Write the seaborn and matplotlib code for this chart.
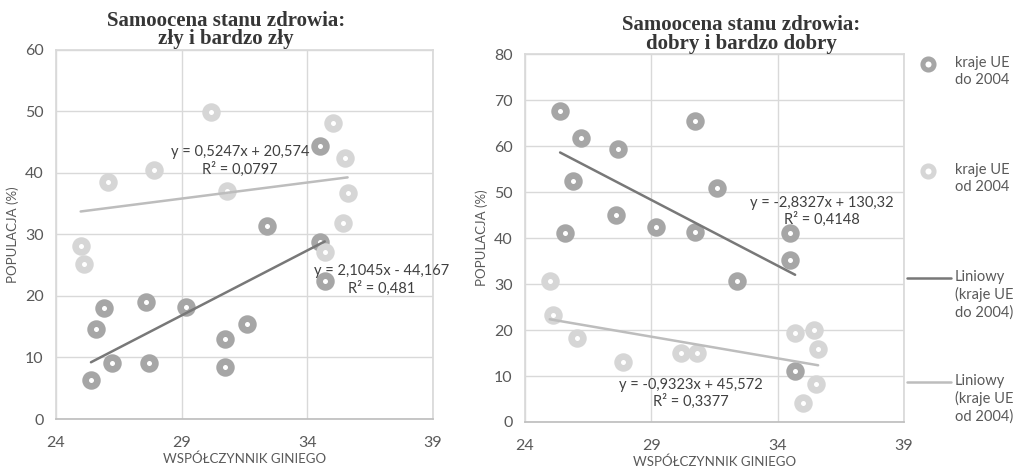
import numpy as np
import pandas as pd
import matplotlib
matplotlib.use('Agg')
import matplotlib.pyplot as plt
from matplotlib.lines import Line2D
import seaborn as sns

# wspolczynnik Giniego + populacja (%)
gini_old = [25.39, 25.58, 25.90, 26.22, 27.59, 27.69, 29.18, 30.71, 30.71, 31.60, 32.40, 34.49, 34.50, 34.69]
zly_old = [6.4, 14.6, 18.1, 9.05, 19.0, 9.16, 18.2, 13.06, 8.5, 15.45, 31.3, 44.4, 28.7, 22.5]
dobry_old = [67.7, 41.0, 52.5, 61.7, 45.1, 59.3, 42.5, 65.5, 41.4, 50.9, 30.7, 41.0, 35.3, 11.0]

gini_new = [24.98, 25.10, 26.05, 27.89, 30.17, 30.80, 34.70, 35.00, 35.42, 35.51, 35.60]
zly_new = [28.1, 25.2, 38.6, 40.5, 49.97, 37.07, 27.1, 48.2, 31.9, 42.5, 36.7]
dobry_new = [30.6, 23.3, 18.3, 13.1, 15.1, 15.1, 19.4, 4.06, 20.0, 8.3, 15.9]

titles = ['Samoocena stanu zdrowia:\nzły i bardzo zły', 'Samoocena stanu zdrowia:\ndobry i bardzo dobry']
eq_left = [('y = 0,5247x + 20,574\nR² = 0,0797', 31.33, 39.4), ('y = 2,1045x - 44,167\nR² = 0,481', 36.94, 20.0)]
eq_right = [('y = -2,8327x + 130,32\nR² = 0,4148', 35.76, 42.4), ('y = -0,9323x + 45,572\nR² = 0,3377', 30.57, 2.8)]
legend_labels = ['kraje UE\ndo 2004', 'kraje UE\nod 2004', 'Liniowy\n(kraje UE\ndo 2004)', 'Liniowy\n(kraje UE\nod 2004)']

DARK = '#a6a6a6'
LIGHT = '#d6d6d6'
DARK_LINE = '#787878'
LIGHT_LINE = '#bdbdbd'
TXT = '#595959'

sns.set_theme(style='whitegrid')
plt.rcParams['font.family'] = ['Lato', 'DejaVu Sans']

fig = plt.figure(figsize=(10.17, 4.68), dpi=100)
ax1 = fig.add_axes([0.0551, 0.1047, 0.3707, 0.7885])
ax2 = fig.add_axes([0.5162, 0.0983, 0.3727, 0.7860])


def draw(ax, yold, ynew, ymax, title, tx, eqs):
	old = pd.DataFrame({'gini': gini_old, 'pop': yold})
	new = pd.DataFrame({'gini': gini_new, 'pop': ynew})
	for df, col, lcol in [(old, DARK, DARK_LINE), (new, LIGHT, LIGHT_LINE)]:
		sns.scatterplot(data=df, x='gini', y='pop', ax=ax, s=72, marker='o',
						facecolor='white', edgecolor=col, linewidth=4.8, zorder=3)
		sns.regplot(data=df, x='gini', y='pop', ax=ax, scatter=False, ci=None, truncate=True,
					line_kws={'color': lcol, 'lw': 1.8, 'zorder': 4})
	ax.set_xlim(24, 39)
	ax.set_ylim(0, ymax)
	ax.set_xticks([24, 29, 34, 39])
	ax.set_yticks(np.arange(0, ymax + 1, 10))
	ax.grid(True, color='#d9d9d9', lw=1.0)
	for sp in ax.spines.values():
		sp.set_color('#d9d9d9')
	ax.spines['bottom'].set_color('#bfbfbf')
	ax.tick_params(axis='both', colors=TXT, labelsize=11.5, length=0, pad=9)
	ax.tick_params(axis='x', pad=12)
	ax.set_xlabel('WSPÓŁCZYNNIK GINIEGO', color=TXT, fontsize=9.5, labelpad=2)
	ax.set_ylabel('POPULACJA (%)', color=TXT, fontsize=9.5, labelpad=4)
	ax.set_title(title, x=tx, family='Liberation Serif', fontweight='bold', fontsize=15,
				 color='#363636', linespacing=0.92, pad=4)
	for txt, x, y in eqs:
		ax.text(x, y, txt, ha='center', va='bottom', fontsize=10.5, color='#404040',
				linespacing=1.2, zorder=5)


draw(ax1, zly_old, zly_new, 60, titles[0], 0.451, eq_left)
draw(ax2, dobry_old, dobry_new, 80, titles[1], 0.570, eq_right)

# legenda po prawej
H = 468.0
W = 1017.0
ys = [64, 171, 278, 382]
for i, lab in enumerate(legend_labels):
	yf = 1 - ys[i] / H
	if i < 2:
		col = DARK if i == 0 else LIGHT
		fig.add_artist(Line2D([928 / W], [yf], marker='o', ms=8, mfc='white', mec=col, mew=3.6,
							  lw=0, transform=fig.transFigure))
	else:
		col = DARK_LINE if i == 2 else LIGHT_LINE
		fig.add_artist(Line2D([907 / W, 951 / W], [yf, yf], color=col, lw=1.8,
							  transform=fig.transFigure))
	fig.text(955 / W, yf + 8 / H, lab, ha='left', va='top', fontsize=10.5, color=TXT, linespacing=1.25)

fig.savefig('out.png', dpi=100, facecolor='white')
